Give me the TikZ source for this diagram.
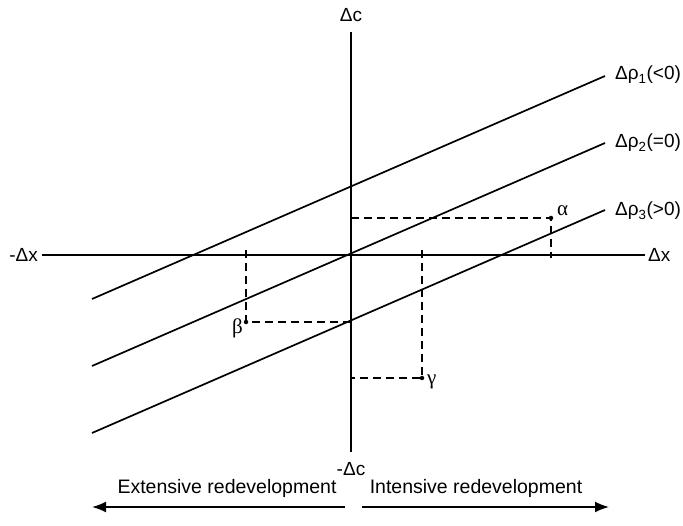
\documentclass[tikz,border=0pt]{standalone}
\usepackage{fontspec}
\setmainfont{Liberation Sans}
\newfontfamily\grk{Liberation Serif}
\usetikzlibrary{arrows.meta}
\tikzset{
  axis/.style={line width=1.7pt},
  curve/.style={line width=1.7pt},
  guide/.style={line width=1.4pt, dash pattern=on 8pt off 5pt},
  lbl/.style={inner sep=0pt, font=\fontsize{19}{22}\selectfont},
  blbl/.style={inner sep=0pt, font=\fontsize{19.5}{22}\selectfont},
  glbl/.style={inner sep=0pt, font=\fontsize{21}{22}\selectfont\grk},
  pt/.style={circle, fill=black, inner sep=0pt, minimum size=4.5pt},
  dirarrow/.style={line width=1.7pt, -{Latex[length=14pt,width=11pt]}}
}
\begin{document}
\begin{tikzpicture}[x=1pt,y=-1pt]
\useasboundingbox (0,0) rectangle (683,526);
% axes
\coordinate (O) at (351,255);
\coordinate (ytop) at (351,32);
\coordinate (ybot) at (351,452);
\coordinate (xl) at (42,255);
\coordinate (xr) at (645,255);
\draw[axis] (ytop) -- (ybot);
\draw[axis] (xl) -- (xr);
\node[lbl] (dc) at (351,15) {Δc};
\node[lbl] (mdc) at (351,469) {-Δc};
\node[lbl, anchor=east] (mdx) at (38,255) {-Δx};
\node[lbl, anchor=west] (dx) at (648,255) {Δx};
% lines
\coordinate (l1a) at (92,299);
\coordinate (l1b) at (605,76);
\coordinate (l2a) at (92,366);
\coordinate (l2b) at (605,143);
\coordinate (l3a) at (92,433);
\coordinate (l3b) at (605,210);
\draw[curve] (l1a) -- (l1b);
\draw[curve] (l2a) -- (l2b);
\draw[curve] (l3a) -- (l3b);
\node[lbl, anchor=west] (r1) at (615,75) {Δρ\textsubscript{1}(<0)};
\node[lbl, anchor=west] (r2) at (615,143) {Δρ\textsubscript{2}(=0)};
\node[lbl, anchor=west] (r3) at (615,211) {Δρ\textsubscript{3}(>0)};
% points
\node[pt] (alpha) at (551,218) {};
\node[pt] (beta) at (246,322) {};
\node[pt] (gamma) at (422,378) {};
\coordinate (ay) at (351,218);
\coordinate (ax) at (551,258);
\coordinate (by) at (351,322);
\coordinate (bx) at (246,250);
\coordinate (gy) at (351,378);
\coordinate (gx) at (422,250);
\draw[guide] (ay) -- (alpha.center) -- (ax);
\draw[guide] (bx) -- (beta.center) -- (by);
\draw[guide] (gx) -- (gamma.center) -- (gy);
\node[glbl, anchor=west] (la) at (557,211) {α};
\node[glbl, anchor=east] (lb) at (243,328) {β};
\node[glbl, anchor=west] (lg) at (427,382) {γ};
% bottom arrows
\coordinate (ea) at (345,507);
\coordinate (eb) at (92,507);
\coordinate (ia) at (362,507);
\coordinate (ib) at (609,507);
\draw[dirarrow] (ea) -- (eb);
\draw[dirarrow] (ia) -- (ib);
\node[blbl] (ext) at (227,488) {Extensive redevelopment};
\node[blbl] (int) at (476,488) {Intensive redevelopment};
\end{tikzpicture}
\end{document}
